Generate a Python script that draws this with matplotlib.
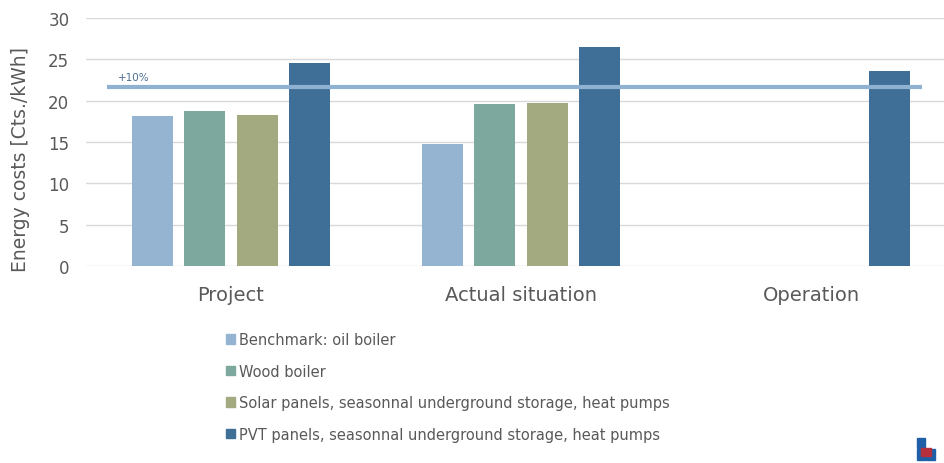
import matplotlib.pyplot as plt
from matplotlib.patches import Patch, Rectangle
import numpy as np

groups = ["Project", "Actual situation", "Operation"]
series = ["Benchmark: oil boiler", "Wood boiler",
          "Solar panels, seasonnal underground storage, heat pumps",
          "PVT panels, seasonnal underground storage, heat pumps"]
values = [
    [18.2, 14.7, None],
    [18.8, 19.6, None],
    [18.3, 19.7, None],
    [24.5, 26.5, 23.6],
]
colors = ["#95B4D2", "#7CA89D", "#A3AA80", "#3F6E96"]
ref_level = 21.7
ref_label = "+10%"

text_col = "#595959"

fig = plt.figure(figsize=(9.45, 4.64), dpi=100)
ax = fig.add_axes([86 / 945, 1 - 267 / 464, 870 / 945, (267 - 19) / 464])

x = np.arange(len(groups))
step = 0.181
width = 0.142
for i, (name, vals, c) in enumerate(zip(series, values, colors)):
    xs = [xi + (i - 1.5) * step for xi, v in zip(x, vals) if v is not None]
    vs = [v for v in vals if v is not None]
    ax.bar(xs, vs, width=width, color=c, zorder=3)

ax.plot([-0.428, 2.383], [ref_level, ref_level], color="#8FB2D3", lw=3, zorder=4,
        solid_capstyle="butt")
ax.text(-0.39, ref_level + 0.6, ref_label, color="#4A6E92", fontsize=7.5, va="bottom")

ax.set_xlim(-0.5, 2.5)
ax.set_ylim(0, 30)
ax.set_yticks(range(0, 31, 5))
ax.set_xticks(x)
ax.set_xticklabels(groups, fontsize=14, color=text_col)
ax.tick_params(axis="y", labelsize=12, labelcolor=text_col, length=0, pad=12)
ax.tick_params(axis="x", length=0, pad=14)
ax.grid(axis="y", color="#D9D9D9", lw=1, zorder=0)
for s in ax.spines.values():
    s.set_visible(False)
ax.set_ylabel("Energy costs [Cts./kWh]", fontsize=13.5, color=text_col)
ax.yaxis.set_label_coords(-0.064, 0.435)

handles = [Patch(color=c) for c in colors]
fig.legend(handles, series, loc="upper left", bbox_to_anchor=(213 / 945, 1 - 320 / 464),
           frameon=False, fontsize=10.5, labelcolor=text_col, handlelength=0.6,
           handleheight=0.6, handletextpad=0.3, labelspacing=1.13)

# small logo, bottom right
lx, ly, s = 917 / 945, 1 - 461 / 464, 1 / 945
fig.patches.extend([
    Rectangle((lx, ly + 12 / 464), 8 * s, 10 / 464, color="#1F5FA8", transform=fig.transFigure),
    Rectangle((lx, ly), 8 * s, 11 / 464, color="#1F5FA8", transform=fig.transFigure),
    Rectangle((lx + 9 * s, ly), 9 * s, 11 / 464, color="#1F5FA8", transform=fig.transFigure),
    Rectangle((lx + 4 * s, ly + 4 / 464), 10 * s, 8 / 464, color="#B5303C", transform=fig.transFigure),
])

fig.savefig("out.png", dpi=100)
